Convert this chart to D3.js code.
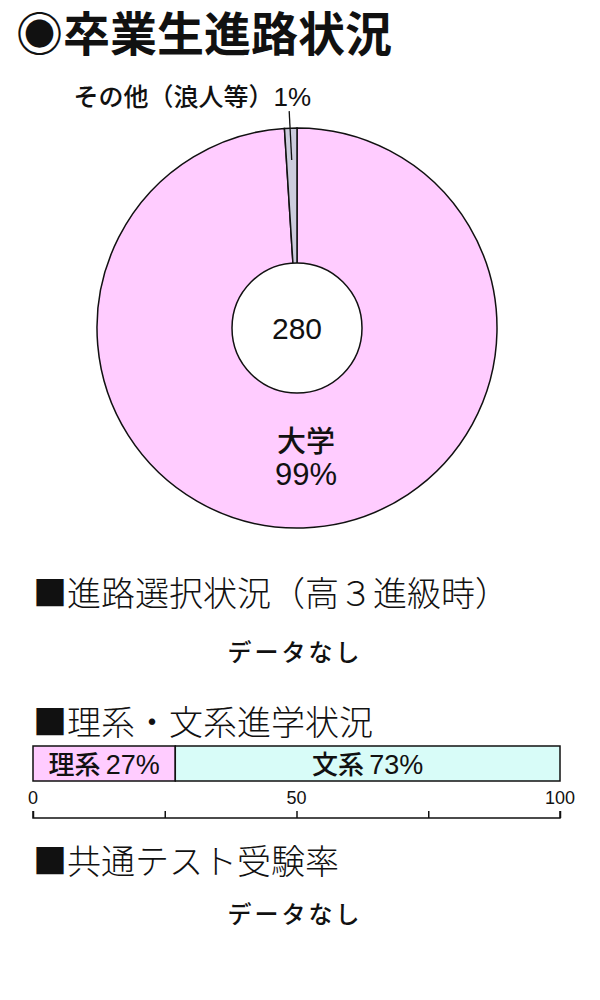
<!DOCTYPE html>
<html><head><meta charset="utf-8">
<script src="https://cdn.jsdelivr.net/npm/d3@7"></script>
<style>
html,body{margin:0;padding:0;background:#fff;}
svg{display:block;font-family:"Noto Sans CJK JP","Noto Sans",sans-serif;}
</style></head>
<body>
<script>
// ---- data ----
const title = "◉卒業生進路状況";
const pieCategories = ["大学", "その他（浪人等）"];
const pieValues = [99, 1];
const pieColors = ["#ffccff", "#ccccdd"];
const totalGraduates = 280;
const sectionTitles = ["■進路選択状況（高３進級時）", "■理系・文系進学状況", "■共通テスト受験率"];
const noDataText = "データなし";
const barCategories = ["理系", "文系"];
const barValues = [27, 73];
const barColors = ["#ffccff", "#d8fcf8"];
const axisTicks = [0, 25, 50, 75, 100];
const axisTickLabels = [0, 50, 100];

const W = 600, H = 1000;
const svg = d3.select("body").append("svg").attr("width", W).attr("height", H);

// title
svg.append("text").attr("x", 16).attr("y", 51)
  .attr("font-size", 47).attr("font-weight", "bold").attr("fill", "#111")
  .text(title);

// ---- pie ----
const cx = 297, cy = 328, R = 200, r0 = 65;
const pie = d3.pie().sort(null).value(d => d)(pieValues);
const arc = d3.arc().innerRadius(0).outerRadius(R);
const g = svg.append("g").attr("transform", `translate(${cx},${cy})`);
g.selectAll("path.slice").data(pie).join("path").attr("class", "slice")
  .attr("d", arc).attr("fill", (d, i) => pieColors[i])
  .attr("stroke", "#111").attr("stroke-width", 1.5);
g.append("circle").attr("r", r0).attr("fill", "#fff").attr("stroke", "#111").attr("stroke-width", 1.5);
g.append("text").attr("y", 11).attr("text-anchor", "middle")
  .attr("font-size", 30).attr("fill", "#111").attr("font-family", "Liberation Sans, Arial, sans-serif")
  .text(totalGraduates);

// main label
const mainLbl = g.append("text").attr("text-anchor", "middle").attr("fill", "#111");
mainLbl.append("tspan").attr("x", 9).attr("y", 124).attr("font-size", 29).attr("font-weight", 500).text(pieCategories[0]);
mainLbl.append("tspan").attr("x", 9).attr("y", 157).attr("font-size", 31)
  .attr("font-family", "Liberation Sans, Arial, sans-serif").text(pieValues[0] + "%");

// small slice leader + label
const small = pie[1];
const midA = (small.startAngle + small.endAngle) / 2;
const pIn = d3.arc().innerRadius(R - 32).outerRadius(R - 32).centroid(small);
const pOut = [Math.sin(midA) * (R + 17), -Math.cos(midA) * (R + 17)];
g.append("line").attr("x1", pIn[0]).attr("y1", pIn[1]).attr("x2", pOut[0] - 1).attr("y2", pOut[1])
  .attr("stroke", "#111").attr("stroke-width", 1.3);
const smallLbl = svg.append("text").attr("x", 311).attr("y", 106).attr("text-anchor", "end")
  .attr("fill", "#111").attr("font-size", 25).attr("font-weight", 500);
smallLbl.append("tspan").text(pieCategories[1]);
smallLbl.append("tspan").attr("font-family", "Liberation Sans, Arial, sans-serif").attr("font-size", 26)
  .attr("font-weight", "normal").text(pieValues[1] + "%");

// ---- section headers ----
const headerY = [606, 735, 874];
sectionTitles.forEach((t, i) => {
  svg.append("text").attr("x", 33).attr("y", headerY[i])
    .attr("font-size", 34).attr("font-weight", 300).attr("fill", "#111").text(t);
});
[661, 923].forEach(y => {
  svg.append("text").attr("x", 295).attr("y", y).attr("text-anchor", "middle")
    .attr("font-size", 24).attr("font-weight", 500).attr("fill", "#111")
    .attr("letter-spacing", 3).text(noDataText);
});

// ---- stacked bar ----
const x = d3.scaleLinear().domain([0, 100]).range([33, 560]);
const barY = 746, barH = 35;
let acc = 0;
const segs = barValues.map((v, i) => { const s = { cat: barCategories[i], v, x0: acc, x1: acc + v, c: barColors[i] }; acc += v; return s; });
const bg = svg.append("g");
bg.selectAll("rect").data(segs).join("rect")
  .attr("x", d => x(d.x0)).attr("y", barY).attr("width", d => x(d.x1) - x(d.x0)).attr("height", barH)
  .attr("fill", d => d.c).attr("stroke", "#111").attr("stroke-width", 1.5);
bg.selectAll("text").data(segs).join("text")
  .attr("x", d => (x(d.x0) + x(d.x1)) / 2).attr("y", barY + barH / 2 + 10)
  .attr("text-anchor", "middle").attr("font-size", 26).attr("font-weight", 500).attr("fill", "#111")
  .each(function(d) {
    const t = d3.select(this);
    t.append("tspan").text(d.cat);
    t.append("tspan").attr("dx", 5).attr("font-family", "Liberation Sans, Arial, sans-serif").attr("font-size", 27).text(d.v + "%");
  });

// axis
const axisY = 818;
const axis = d3.axisTop(x).tickValues(axisTicks).tickSize(7).tickFormat("");
const ag = svg.append("g").attr("transform", `translate(0,${axisY})`).call(axis);
ag.select(".domain").attr("d", `M${x(0)},-7V0H${x(100)}V-7`).attr("stroke", "#111").attr("stroke-width", 1.5);
ag.selectAll(".tick line").attr("stroke", "#111").attr("stroke-width", 1.5);
svg.selectAll("text.axlbl").data(axisTickLabels).join("text").attr("class", "axlbl")
  .attr("x", d => x(d)).attr("y", 804).attr("text-anchor", "middle")
  .attr("font-size", 18).attr("font-family", "Liberation Sans, Arial, sans-serif").attr("fill", "#111")
  .text(d => d);
</script>
</body></html>
